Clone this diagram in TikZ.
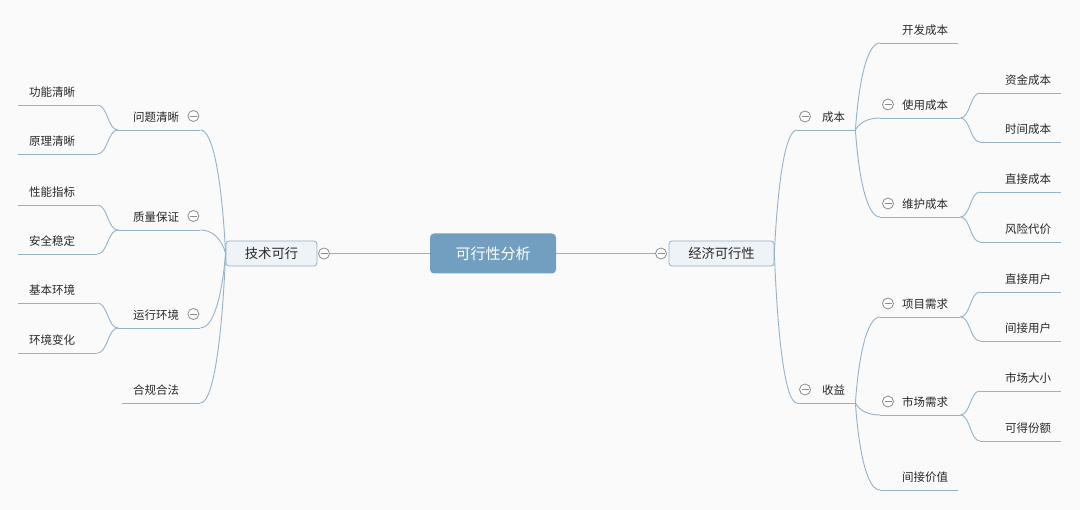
\documentclass[tikz,border=0pt]{standalone}
\usepackage{fontspec}
\setmainfont{Noto Sans CJK SC}
\usetikzlibrary{calc}
\definecolor{bg}{RGB}{250,250,250}
\definecolor{ln}{RGB}{150,178,202}
\definecolor{rootfill}{RGB}{114,159,192}
\definecolor{boxfill}{RGB}{238,243,248}
\definecolor{boxline}{RGB}{150,175,198}
\definecolor{txt}{RGB}{40,40,40}
\definecolor{cgray}{RGB}{140,140,140}
\newcommand{\TxtL}[3]{\makebox[#1][l]{\hspace{#2}#3}}
\newcommand{\TxtR}[3]{\makebox[#1][r]{#3\hspace{#2}}}
\newcommand{\cstp}[2]{\draw[conn] let \p1=(#1), \p2=(#2) in (\p1) .. controls ({\x1+0.15*(\x2)-0.15*(\x1)},{\y1+0.6*(\y2)-0.6*(\y1)}) and ({\x1+0.5*(\x2)-0.5*(\x1)},\y2) .. (\p2);}
\newcommand{\csh}[2]{\draw[conn] let \p1=(#1), \p2=(#2) in (\p1) .. controls ({\x1+0.5*(\x2)-0.5*(\x1)},\y1) and ({\x1+0.5*(\x2)-0.5*(\x1)},\y2) .. (\p2);}
\tikzset{
  conn/.style={draw=ln, line width=0.9pt},
  topic/.style={inner sep=0pt, anchor=south west, minimum height=26pt, font=\fontsize{11.5}{12}\selectfont, text=txt},
  rootbox/.style={rectangle, rounded corners=4pt, fill=rootfill, text=white, minimum width=126pt, minimum height=40pt, inner sep=0pt, font=\fontsize{15}{16}\selectfont},
  mainbox/.style={rectangle, rounded corners=3pt, fill=boxfill, draw=boxline, line width=0.8pt, text=txt, minimum height=25pt, inner sep=0pt, font=\fontsize{13.3}{14}\selectfont},
  coll/.style={circle, draw=cgray, fill=white, minimum size=11pt, inner sep=0pt, line width=0.8pt,
    path picture={\draw[cgray, line width=0.8pt] ([xshift=-3.5pt]path picture bounding box.center) -- ([xshift=3.5pt]path picture bounding box.center);}},
}
\begin{document}
\begin{tikzpicture}[x=1pt,y=-1pt]
\fill[bg] (0,0) rectangle (1080,510);
\useasboundingbox (0,0) rectangle (1080,510);

% root and main branches
\node[rootbox] (root) at (493,253.5) {可行性分析};
\node[mainbox, minimum width=91pt] (tech) at (271.5,253.5) {技术可行};
\node[mainbox, minimum width=105pt] (econ) at (721.5,253.5) {经济可行性};
\node[coll] (ctech) at (324,253.5) {};
\node[coll] (cecon) at (661,253.5) {};
\draw[conn] (root.west) -- (ctech.east);
\draw[conn] (root.east) -- (cecon.west);

% left side
\node[topic] (wt) at (118,130) {\TxtL{82pt}{15pt}{问题清晰}};
\node[topic] (zl) at (118,230) {\TxtL{82pt}{15pt}{质量保证}};
\node[topic] (yx) at (118,328) {\TxtL{82pt}{15pt}{运行环境}};
\node[topic] (hg) at (122,403) {\TxtL{78pt}{11pt}{合规合法}};
\node[topic] (gn) at (18,105) {\TxtL{79pt}{11pt}{功能清晰}};
\node[topic] (yl) at (18,154) {\TxtL{79pt}{11pt}{原理清晰}};
\node[topic] (xn) at (18,205) {\TxtL{79pt}{11pt}{性能指标}};
\node[topic] (aq) at (18,254) {\TxtL{79pt}{11pt}{安全稳定}};
\node[topic] (jb) at (18,303) {\TxtL{79pt}{11pt}{基本环境}};
\node[topic] (hb) at (18,353) {\TxtL{79pt}{11pt}{环境变化}};
\foreach \n in {wt,zl,yx}{\node[coll] (c\n) at ([xshift=-7pt,yshift=14pt]\n.south east) {};}

% right side
\node[topic] (cb) at (797,130) {\TxtL{58pt}{25pt}{成本}};
\node[topic] (sy) at (797,403) {\TxtL{58pt}{25pt}{收益}};
\node[topic] (kf) at (880,43) {\TxtL{78pt}{22pt}{开发成本}};
\node[topic] (syc) at (880,118) {\TxtL{80pt}{22pt}{使用成本}};
\node[topic] (wh) at (880,217) {\TxtL{80pt}{22pt}{维护成本}};
\node[topic] (xm) at (880,317) {\TxtL{80pt}{22pt}{项目需求}};
\node[topic] (sc) at (880,415) {\TxtL{80pt}{22pt}{市场需求}};
\node[topic] (jj) at (880,490) {\TxtL{78pt}{22pt}{间接价值}};
\node[topic] (zj) at (980,93) {\TxtR{81pt}{10pt}{资金成本}};
\node[topic] (sj) at (980,142) {\TxtR{81pt}{10pt}{时间成本}};
\node[topic] (zc) at (980,192) {\TxtR{81pt}{10pt}{直接成本}};
\node[topic] (fx) at (980,242) {\TxtR{81pt}{10pt}{风险代价}};
\node[topic] (zy) at (980,292) {\TxtR{81pt}{10pt}{直接用户}};
\node[topic] (jy) at (980,341) {\TxtR{81pt}{10pt}{间接用户}};
\node[topic] (dx) at (980,391) {\TxtR{81pt}{10pt}{市场大小}};
\node[topic] (kd) at (980,441) {\TxtR{81pt}{10pt}{可得份额}};
\foreach \n in {cb,sy,syc,wh,xm,sc}{\node[coll] (c\n) at ([xshift=8pt,yshift=13.5pt]\n.south west) {};}

% underlines
\foreach \n in {wt,zl,yx,hg,gn,yl,xn,aq,jb,hb,cb,sy,kf,syc,wh,xm,sc,jj,zj,sj,zc,fx,zy,jy,dx,kd}{
  \draw[conn] (\n.south west) -- (\n.south east);}

% left connectors
\cstp{tech.west}{wt.south east}
\cstp{tech.west}{zl.south east}
\cstp{tech.west}{yx.south east}
\cstp{tech.west}{hg.south east}
\csh{wt.south west}{gn.south east}
\csh{wt.south west}{yl.south east}
\csh{zl.south west}{xn.south east}
\csh{zl.south west}{aq.south east}
\csh{yx.south west}{jb.south east}
\csh{yx.south west}{hb.south east}

% right connectors
\cstp{econ.east}{cb.south west}
\cstp{econ.east}{sy.south west}
\cstp{cb.south east}{kf.south west}
\cstp{cb.south east}{syc.south west}
\cstp{cb.south east}{wh.south west}
\cstp{sy.south east}{xm.south west}
\cstp{sy.south east}{sc.south west}
\cstp{sy.south east}{jj.south west}
\csh{syc.south east}{zj.south west}
\csh{syc.south east}{sj.south west}
\csh{wh.south east}{zc.south west}
\csh{wh.south east}{fx.south west}
\csh{xm.south east}{zy.south west}
\csh{xm.south east}{jy.south west}
\csh{sc.south east}{dx.south west}
\csh{sc.south east}{kd.south west}
\end{tikzpicture}
\end{document}
